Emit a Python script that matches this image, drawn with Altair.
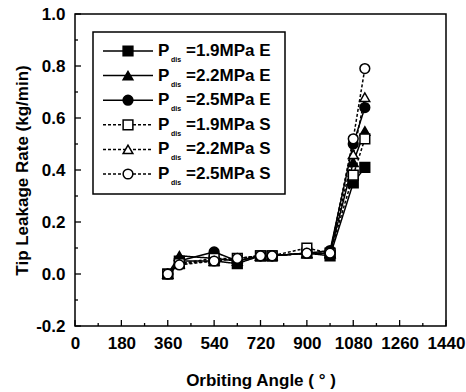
import altair as alt
import pandas as pd

# ---- data ----
angles = [360, 405, 540, 630, 720, 765, 900, 990, 1080, 1125]
series_names = ["1.9MPa E", "2.2MPa E", "2.5MPa E", "1.9MPa S", "2.2MPa S", "2.5MPa S"]
e19 = [0.00, 0.05, 0.05, 0.04, 0.07, 0.07, 0.08, 0.07, 0.35, 0.41]
e22 = [0.00, 0.07, 0.06, 0.05, 0.07, 0.07, 0.08, 0.08, 0.43, 0.55]
e25 = [0.00, 0.05, 0.085, 0.05, 0.07, 0.07, 0.08, 0.09, 0.50, 0.64]
s19 = [0.00, 0.04, 0.06, 0.06, 0.07, 0.07, 0.10, 0.08, 0.38, 0.52]
s22 = [0.00, 0.04, 0.05, 0.06, 0.07, 0.07, 0.08, 0.08, 0.46, 0.68]
s25 = [0.00, 0.035, 0.05, 0.06, 0.07, 0.07, 0.08, 0.08, 0.52, 0.79]
all_values = [e19, e22, e25, s19, s22, s25]

x_ticks = list(range(0, 1441, 180))
x_minor = list(range(90, 1440, 180))
y_ticks = [-0.2, 0.0, 0.2, 0.4, 0.6, 0.8, 1.0]
y_minor = [-0.1, 0.1, 0.3, 0.5, 0.7, 0.9]

# ---- styling ----
FONT = "Liberation Sans"
W, H = 371, 312
shapes = ["square", "triangle-up", "circle", "square", "triangle-up", "circle"]
fills = ["black", "black", "black", "white", "white", "white"]

rows = []
for name, vals in zip(series_names, all_values):
    for a, v in zip(angles, vals):
        rows.append({"series": name, "kind": name[-1], "angle": a, "rate": v})
df = pd.DataFrame(rows)

xscale = alt.Scale(domain=[0, 1440], nice=False)
yscale = alt.Scale(domain=[-0.2, 1.0], nice=False)
shape_enc = alt.Shape("series:N", scale=alt.Scale(domain=series_names, range=shapes), legend=None)
fill_enc = alt.Fill("series:N", scale=alt.Scale(domain=series_names, range=fills), legend=None)
dash_enc = alt.StrokeDash("kind:N", scale=alt.Scale(domain=["E", "S"], range=[[1, 0], [3, 2]]), legend=None)

base = alt.Chart(df)

lines = base.mark_line(color="black", strokeWidth=1.5).encode(
    x=alt.X("angle:Q", scale=xscale,
            axis=alt.Axis(values=x_ticks, title="Orbiting Angle ( ° )", format="d",
                          titleY=46, labelPadding=9, labelOverlap=False, labelFlush=False)),
    y=alt.Y("rate:Q", scale=yscale,
            axis=alt.Axis(values=y_ticks, title="Tip Leakage Rate (kg/min)",
                          labelExpr="replace(format(datum.value, '.1f'), '\u2212', '-')",
                          titleX=-44, labelPadding=10, labelOverlap=False, labelFlush=False)),
    detail="series:N",
    strokeDash=dash_enc,
)

points = base.mark_point(filled=True, stroke="black", strokeWidth=1.5, size=95, opacity=1).encode(
    x=alt.X("angle:Q", scale=xscale),
    y=alt.Y("rate:Q", scale=yscale),
    shape=shape_enc,
    fill=fill_enc,
)

# inward ticks
xt = pd.DataFrame({"v": x_ticks})
xm = pd.DataFrame({"v": x_minor})
yt = pd.DataFrame({"v": y_ticks})
ym = pd.DataFrame({"v": y_minor})
xtick_major = alt.Chart(xt).mark_rule(color="black", strokeWidth=1.3).encode(
    x=alt.X("v:Q", scale=xscale), y=alt.value(H), y2=alt.value(H - 6))
xtick_minor = alt.Chart(xm).mark_rule(color="black", strokeWidth=1.3).encode(
    x=alt.X("v:Q", scale=xscale), y=alt.value(H), y2=alt.value(H - 3))
ytick_major = alt.Chart(yt).mark_rule(color="black", strokeWidth=1.3).encode(
    y=alt.Y("v:Q", scale=yscale), x=alt.value(0), x2=alt.value(6))
ytick_minor = alt.Chart(ym).mark_rule(color="black", strokeWidth=1.3).encode(
    y=alt.Y("v:Q", scale=yscale), x=alt.value(0), x2=alt.value(3))

# manual legend (with subscript "dis")
leg = pd.DataFrame({
    "series": series_names,
    "kind": [s[-1] for s in series_names],
    "label": ["=" + s for s in series_names],
    "ly": [37 + 24.6 * i for i in range(6)],
})
leg["ly_sub"] = leg["ly"] + 9
legbase = alt.Chart(leg)
ybox = alt.Y("ly:Q", scale=None, axis=None)
leg_box = alt.Chart(pd.DataFrame({"a": [0]})).mark_rect(
    fill="white", stroke="black", strokeWidth=1.5).encode(
    x=alt.value(18), x2=alt.value(210), y=alt.value(18), y2=alt.value(180))
leg_lines = legbase.mark_rule(color="black", strokeWidth=1.5).encode(
    x=alt.value(28), x2=alt.value(78), y=ybox, strokeDash=dash_enc)
leg_pts = legbase.mark_point(filled=True, stroke="black", strokeWidth=1.5, size=95, opacity=1).encode(
    x=alt.value(53), y=ybox, shape=shape_enc, fill=fill_enc)
leg_p = legbase.mark_text(text="P", align="left", baseline="middle", font=FONT,
                          fontSize=17, fontWeight="bold", color="black").encode(x=alt.value(83), y=ybox)
leg_sub = legbase.mark_text(text="dis", align="left", baseline="middle", font=FONT,
                            fontSize=7, fontWeight="bold", color="black").encode(
    x=alt.value(96), y=alt.Y("ly_sub:Q", scale=None, axis=None))
leg_txt = legbase.mark_text(align="left", baseline="middle", font=FONT,
                            fontSize=17, fontWeight="bold", color="black").encode(
    x=alt.value(111), y=ybox, text="label:N")

chart = alt.layer(
    xtick_major, xtick_minor, ytick_major, ytick_minor,
    lines, points,
    leg_box, leg_lines, leg_pts, leg_p, leg_sub, leg_txt,
).properties(
    width=W, height=H,
    autosize=alt.AutoSizeParams(type="none"),
    padding={"left": 75, "top": 14, "right": 20, "bottom": 66},
    background="white",
).configure_view(
    stroke="black", strokeWidth=1.5,
).configure_axis(
    domain=False, ticks=False, grid=False,
    labelFont=FONT, labelFontSize=17, labelFontWeight="bold", labelColor="black",
    titleFont=FONT, titleFontSize=17, titleFontWeight="bold", titleColor="black",
)

chart.save("out.html", embed_options={"renderer": "svg", "actions": False})
